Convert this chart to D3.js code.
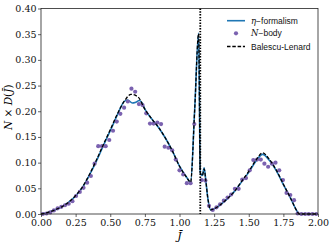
<!DOCTYPE html>
<html>
<head>
<meta charset="utf-8">
<script src="https://cdn.jsdelivr.net/npm/d3@7"></script>
<style>
body { margin: 0; background: #fff; }
</style>
</head>
<body>
<script>
var width = 332, height = 246;
var margin = {left: 41, right: 14, top: 8.5, bottom: 32};

// N-body measurement (histogram bins)
var nbodyJ = [0.013, 0.040, 0.067, 0.093, 0.120, 0.147, 0.173, 0.200, 0.227, 0.253,
  0.280, 0.307, 0.333, 0.360, 0.387, 0.413, 0.440, 0.467, 0.493, 0.520,
  0.547, 0.573, 0.600, 0.627, 0.653, 0.680, 0.707, 0.733, 0.760, 0.787,
  0.813, 0.840, 0.867, 0.893, 0.920, 0.947, 0.973, 1.000, 1.027, 1.053,
  1.080, 1.107, 1.160, 1.187, 1.213, 1.240, 1.267, 1.293, 1.320, 1.347,
  1.373, 1.400, 1.427, 1.453, 1.480, 1.507, 1.533, 1.560, 1.587, 1.613,
  1.640, 1.667, 1.693, 1.720, 1.747, 1.773, 1.800, 1.827, 1.853, 1.880,
  1.907, 1.933, 1.960, 1.987];
var nbodyD = [0.000, 0.001, 0.003, 0.007, 0.011, 0.014, 0.017, 0.020, 0.025, 0.035,
  0.043, 0.051, 0.061, 0.074, 0.098, 0.132, 0.132, 0.132, 0.144, 0.162,
  0.180, 0.195, 0.207, 0.219, 0.244, 0.238, 0.214, 0.212, 0.196, 0.176,
  0.176, 0.178, 0.175, 0.131, 0.129, 0.124, 0.106, 0.085, 0.077, 0.060,
  0.060, 0.175, 0.066, 0.065, 0.016, 0.008, 0.013, 0.019, 0.026, 0.032,
  0.038, 0.049, 0.049, 0.067, 0.070, 0.085, 0.105, 0.106, 0.106, 0.098,
  0.092, 0.098, 0.100, 0.085, 0.066, 0.041, 0.037, 0.027, 0.001, 0.000,
  0.000, 0.000, 0.000, 0.000];

// eta-formalism prediction
var etaJ = [0, 0.05, 0.1, 0.15, 0.2, 0.25, 0.3, 0.35, 0.4, 0.45,
  0.5, 0.55, 0.6, 0.625, 0.66, 0.68, 0.71, 0.73, 0.75, 0.8,
  0.85, 0.9, 0.95, 1.0, 1.05, 1.08, 1.11, 1.138, 1.15, 1.165,
  1.178, 1.19, 1.205, 1.225, 1.25, 1.3, 1.35, 1.4, 1.45, 1.5,
  1.55, 1.6, 1.65, 1.7, 1.75, 1.8, 1.85, 1.865, 1.9, 1.95, 2.0];
var etaD = [0, 0.003, 0.008, 0.014, 0.023, 0.035, 0.052, 0.076, 0.103, 0.133,
  0.162, 0.192, 0.219, 0.222, 0.216, 0.217, 0.221, 0.216, 0.204, 0.185,
  0.168, 0.147, 0.122, 0.093, 0.072, 0.062, 0.205, 0.352, 0.08, 0.075,
  0.09, 0.065, 0.03, 0.008, 0.010, 0.019, 0.031, 0.045, 0.063, 0.081,
  0.102, 0.116, 0.104, 0.084, 0.057, 0.032, 0.005, 0, 0, 0, 0];

// Balescu-Lenard prediction
var blJ = [0, 0.05, 0.1, 0.15, 0.2, 0.25, 0.3, 0.35, 0.4, 0.45,
  0.5, 0.55, 0.6, 0.65, 0.7, 0.75, 0.8, 0.85, 0.9, 0.95,
  1.0, 1.05, 1.08, 1.11, 1.138, 1.15, 1.165, 1.178, 1.19, 1.205,
  1.225, 1.25, 1.3, 1.35, 1.4, 1.45, 1.5, 1.55, 1.6, 1.65,
  1.7, 1.75, 1.8, 1.85, 1.865, 1.9, 1.95, 2.0];
var blD = [0, 0.003, 0.008, 0.014, 0.023, 0.036, 0.053, 0.077, 0.105, 0.135,
  0.164, 0.194, 0.219, 0.233, 0.228, 0.204, 0.185, 0.168, 0.147, 0.122,
  0.093, 0.072, 0.062, 0.205, 0.351, 0.08, 0.075, 0.088, 0.065, 0.03,
  0.008, 0.010, 0.019, 0.031, 0.045, 0.064, 0.083, 0.104, 0.119, 0.106,
  0.085, 0.058, 0.032, 0.005, 0, 0, 0, 0];

var resonanceJ = 1.15;
var xTicks = [0, 0.25, 0.5, 0.75, 1.0, 1.25, 1.5, 1.75, 2.0];
var yTicks = [0, 0.05, 0.10, 0.15, 0.20, 0.25, 0.30, 0.35, 0.40];

var svg = d3.select('body').append('svg').attr('width', width).attr('height', height);

var x = d3.scaleLinear().domain([0, 2]).range([margin.left, width - margin.right]);
var y = d3.scaleLinear().domain([0, 0.4]).range([height - margin.bottom, margin.top]);

var line = d3.line()
  .x(function(d) { return x(d[0]); })
  .y(function(d) { return y(d[1]); })
  .curve(d3.curveMonotoneX);

// eta line
svg.append('path')
  .datum(d3.zip(etaJ, etaD))
  .attr('d', line)
  .attr('fill', 'none')
  .attr('stroke', '#1f77b4')
  .attr('stroke-width', 1.6);

// N-body dots
svg.selectAll('circle.nb')
  .data(d3.zip(nbodyJ, nbodyD))
  .join('circle')
  .attr('class', 'nb')
  .attr('cx', function(d) { return x(d[0]); })
  .attr('cy', function(d) { return y(d[1]); })
  .attr('r', 2.1)
  .attr('fill', '#7b62b0');

// Balescu-Lenard dashed
svg.append('path')
  .datum(d3.zip(blJ, blD))
  .attr('d', line)
  .attr('fill', 'none')
  .attr('stroke', '#000')
  .attr('stroke-width', 1.3)
  .attr('stroke-dasharray', '3.5,1.8');

// resonance marker
svg.append('line')
  .attr('x1', x(resonanceJ)).attr('x2', x(resonanceJ))
  .attr('y1', y(0.4)).attr('y2', y(0))
  .attr('stroke', '#000')
  .attr('stroke-width', 1.8)
  .attr('stroke-dasharray', '1.4,1.4');

// axes
var xAxis = svg.append('g')
  .attr('transform', 'translate(0,' + y(0) + ')')
  .call(d3.axisBottom(x).tickValues(xTicks).tickFormat(d3.format('.2f')).tickSize(3).tickPadding(2));
var yAxis = svg.append('g')
  .attr('transform', 'translate(' + x(0) + ',0)')
  .call(d3.axisLeft(y).tickValues(yTicks).tickFormat(d3.format('.2f')).tickSize(3).tickPadding(1.5));

[xAxis, yAxis].forEach(function(g) {
  g.select('.domain').remove();
  g.selectAll('line').attr('stroke', '#222').attr('stroke-width', 0.7);
  g.selectAll('text')
    .attr('font-family', 'DejaVu Serif')
    .attr('font-size', 9.5)
    .attr('fill', '#111');
});

// frame
svg.append('rect')
  .attr('x', x(0)).attr('y', y(0.4))
  .attr('width', x(2) - x(0)).attr('height', y(0) - y(0.4))
  .attr('fill', 'none')
  .attr('stroke', '#222')
  .attr('stroke-width', 0.8);

// axis labels
var xl = svg.append('text')
  .attr('x', (x(0) + x(2)) / 2)
  .attr('y', 240)
  .attr('text-anchor', 'middle')
  .attr('font-family', 'DejaVu Serif')
  .attr('font-style', 'italic')
  .attr('font-size', 11)
  .text('J\u0304');

var yl = svg.append('text')
  .attr('transform', 'translate(12,' + ((y(0) + y(0.4)) / 2 - 4) + ') rotate(-90)')
  .attr('text-anchor', 'middle')
  .attr('font-family', 'DejaVu Serif')
  .attr('font-size', 10.5);
yl.append('tspan').attr('font-style', 'italic').text('N');
yl.append('tspan').text(' \u00d7 ');
yl.append('tspan').attr('font-style', 'italic').text('D');
yl.append('tspan').text('(');
yl.append('tspan').attr('font-style', 'italic').text('J\u0304');
yl.append('tspan').text(')');

// legend
var lg = svg.append('g');
var rows = [20.7, 33.3, 46.5];
lg.append('line').attr('x1', 227).attr('x2', 245).attr('y1', rows[0]).attr('y2', rows[0])
  .attr('stroke', '#1f77b4').attr('stroke-width', 1.6);
lg.append('circle').attr('cx', 236).attr('cy', rows[1]).attr('r', 2.1).attr('fill', '#7b62b0');
lg.append('line').attr('x1', 227).attr('x2', 245).attr('y1', rows[2]).attr('y2', rows[2])
  .attr('stroke', '#000').attr('stroke-width', 1.3).attr('stroke-dasharray', '3.5,1.8');

function legendText(row, mathPart, rest) {
  var t = lg.append('text').attr('x', 251).attr('y', row + 3)
    .attr('font-family', 'Liberation Sans').attr('font-size', 8.5).attr('fill', '#111');
  if (mathPart) {
    t.append('tspan').attr('font-family', 'DejaVu Serif').attr('font-style', 'italic').text(mathPart);
  }
  t.append('tspan').text(rest);
}
legendText(rows[0], '\u03b7', '\u2212formalism');
legendText(rows[1], 'N', '\u2212body');
legendText(rows[2], null, 'Balescu-Lenard');

console.log('ready..');
</script>
</body>
</html>
